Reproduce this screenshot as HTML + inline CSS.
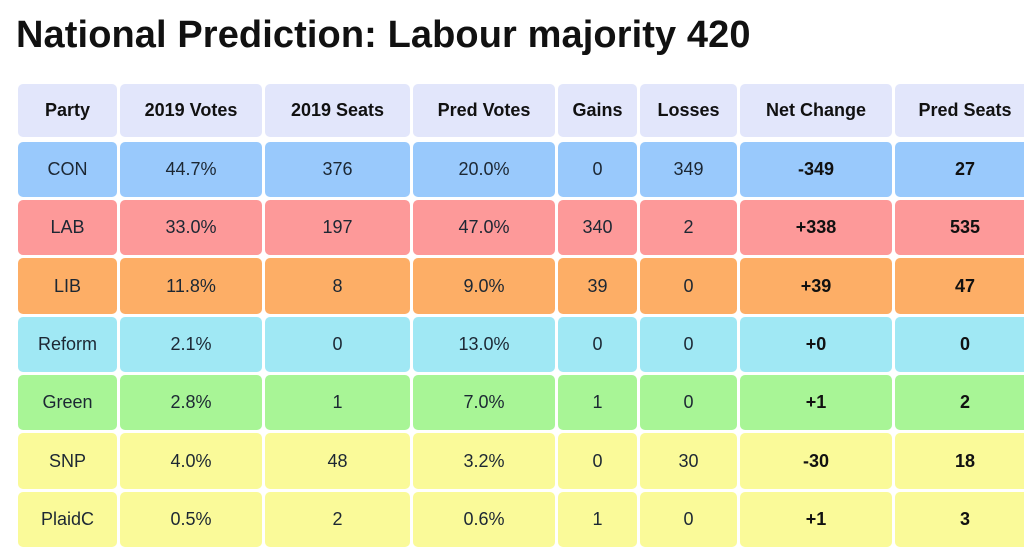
<!DOCTYPE html>
<html><head><meta charset="utf-8"><style>
body{margin:0;width:1024px;height:537px;overflow:hidden;background:#fff;font-family:"Liberation Sans","DejaVu Sans",sans-serif;position:relative}
h1{position:absolute;left:16px;top:14px;margin:0;font-size:38px;font-weight:bold;color:#111;letter-spacing:0.1px}
.c{position:absolute;border-radius:5px;display:flex;align-items:center;justify-content:center;font-size:18px;color:#1c2733}
.h{background:#e2e6fb;font-weight:bold;color:#111}
.b{font-weight:bold;color:#111}
</style></head><body>
<h1>National Prediction: Labour majority 420</h1>
<div id="t"></div>
<script>
var cols=[[18,99],[120,142],[265,145],[413,142],[558,79],[640,97],[740,152],[895,140]];
var rows=[[84,53],[142,55],[200,55],[258,56],[317,55],[375,55],[433,56],[492,55]];
var data=[
["Party","2019 Votes","2019 Seats","Pred Votes","Gains","Losses","Net Change","Pred Seats"],
["CON","44.7%","376","20.0%","0","349","-349","27"],
["LAB","33.0%","197","47.0%","340","2","+338","535"],
["LIB","11.8%","8","9.0%","39","0","+39","47"],
["Reform","2.1%","0","13.0%","0","0","+0","0"],
["Green","2.8%","1","7.0%","1","0","+1","2"],
["SNP","4.0%","48","3.2%","0","30","-30","18"],
["PlaidC","0.5%","2","0.6%","1","0","+1","3"]];
var bg=["","#99c9fc","#fd9999","#fdae66","#a0e8f4","#a8f596","#fafa99","#fafa99"];
var h="";
for(var r=0;r<8;r++)for(var c=0;c<8;c++){
var cls="c"+(r==0?" h":(c>=6?" b":""));
h+='<div class="'+cls+'" style="left:'+cols[c][0]+'px;width:'+cols[c][1]+'px;top:'+rows[r][0]+'px;height:'+rows[r][1]+'px;'+(r?'background:'+bg[r]:'')+'">'+data[r][c]+'</div>';}
document.getElementById("t").innerHTML=h;
</script>
</body></html>
